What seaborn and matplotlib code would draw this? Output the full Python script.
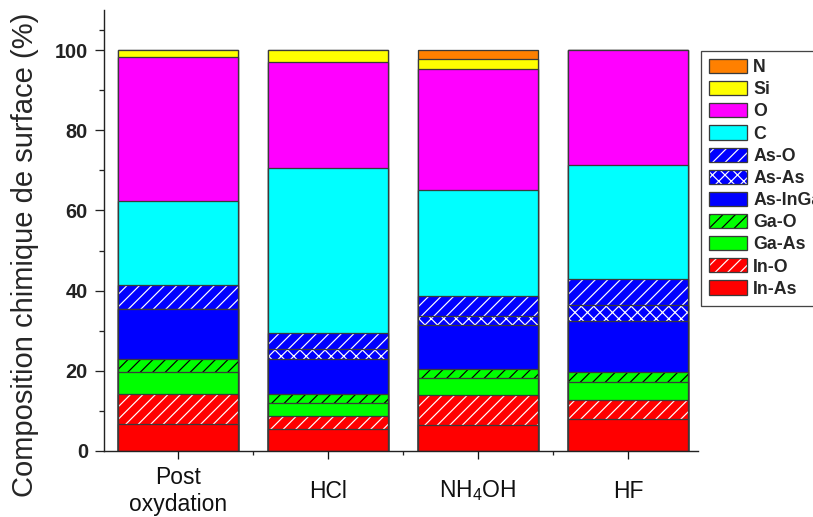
import numpy as np
import matplotlib
matplotlib.use("Agg")
import matplotlib.pyplot as plt
from matplotlib.patches import Patch
from matplotlib.legend_handler import HandlerTuple
from matplotlib.ticker import FixedLocator
import seaborn as sns

# --- données ---
categories = ["Post\noxydation", "HCl", "NH4OH", "HF"]
tick_labels = ["Post\noxydation", "HCl", r"NH$_\mathregular{4}$OH", "HF"]
components = ["In-As", "In-O", "Ga-As", "Ga-O", "As-InGa", "As-As", "As-O",
              "C", "O", "Si", "N"]
in_as   = [6.7, 5.4, 6.5, 8.0]
in_o    = [7.4, 3.3, 7.5, 4.7]
ga_as   = [5.7, 3.2, 4.3, 4.6]
ga_o    = [3.1, 2.2, 2.2, 2.5]
as_inga = [12.4, 8.8, 10.9, 12.7]
as_as   = [0.0, 2.5, 2.3, 3.9]
as_o    = [6.1, 4.1, 5.0, 6.4]
c_surf  = [20.9, 41.0, 26.5, 28.5]
o_surf  = [35.9, 26.6, 30.1, 28.7]
si      = [1.8, 2.9, 2.5, 0.0]
n       = [0.0, 0.0, 2.2, 0.0]
y_ticks = [0, 20, 40, 60, 80, 100]

# --- style ---
COLORS  = ["#FF0000", "#FF0000", "#00FF00", "#00FF00", "#0000FF", "#0000FF",
           "#0000FF", "#00FFFF", "#FF00FF", "#FFFF00", "#FF8000"]
HATCHES = [None, "////", None, "////", None, "xxxx", "////", None, None, None, None]
HCOLORS = ["none", "white", "none", "black", "none", "white", "white",
           "none", "none", "none", "none"]
EDGE = "#3a3a3a"
DPI = 150
PX = 72 / DPI  # 1 pixel en points

sns.set_theme(style="ticks")
plt.rcParams["font.family"] = ["Liberation Sans", "DejaVu Sans"]
plt.rcParams["mathtext.fontset"] = "custom"
plt.rcParams["mathtext.rm"] = "Liberation Sans"
plt.rcParams["hatch.linewidth"] = 1.2 * PX

values = np.array([in_as, in_o, ga_as, ga_o, as_inga, as_as, as_o,
                   c_surf, o_surf, si, n])
stack = np.cumsum(values, axis=0)

fig = plt.figure(figsize=(813 / DPI, 517 / DPI), dpi=DPI)
ax = fig.add_axes([104 / 813, 1 - 451 / 517, (698 - 104) / 813, (451 - 10) / 517])

# barres cumulées dessinées du haut vers le bas
for i in reversed(range(len(components))):
    sns.barplot(x=categories, y=stack[i], color=COLORS[i], saturation=1,
                width=0.8, errorbar=None, hatch=HATCHES[i],
                edgecolor=HCOLORS[i] if HATCHES[i] else COLORS[i],
                linewidth=0, ax=ax)
    ax.bar(range(len(categories)), stack[i], width=0.8, facecolor="none",
           edgecolor=EDGE, linewidth=1.3 * PX)

ax.set_xlim(-0.493, 3.467)
ax.set_ylim(0, 110)
sns.despine(ax=ax)
for sp in ("left", "bottom"):
    ax.spines[sp].set_linewidth(1.4 * PX)
    ax.spines[sp].set_color("#222222")

ax.set_yticks(y_ticks)
ax.set_yticklabels([str(t) for t in y_ticks], fontsize=9.6, fontweight="bold")
ax.yaxis.set_minor_locator(FixedLocator([10, 30, 50, 70, 90, 105]))
ax.tick_params(axis="y", which="major", length=9 * PX, width=1.3 * PX,
               pad=7 * PX, colors="#222222")
ax.tick_params(axis="y", which="minor", length=5 * PX, width=1.3 * PX,
               color="#222222")

ax.set_xticks(range(len(categories)))
ax.set_xticklabels(tick_labels, fontsize=11, va="center", linespacing=1.2)
ax.xaxis.set_minor_locator(FixedLocator([-0.5, 0.5, 1.5, 2.5]))
ax.tick_params(axis="x", which="major", length=8 * PX, width=1.3 * PX,
               pad=32 * PX, colors="#111111")
ax.tick_params(axis="x", which="minor", length=4 * PX, width=1.3 * PX,
               color="#222222")

ax.set_xlabel("")
ax.set_ylabel("Composition chimique de surface (%)", fontsize=14)
ax.yaxis.set_label_coords(-0.109, 0.444)

# légende (ordre inverse de l'empilement)
handles = []
for i in reversed(range(len(components))):
    fill = Patch(facecolor=COLORS[i], hatch=HATCHES[i],
                 edgecolor=HCOLORS[i] if HATCHES[i] else COLORS[i], linewidth=0)
    outline = Patch(facecolor="none", edgecolor=EDGE, linewidth=1.3 * PX)
    handles.append((fill, outline))
labels = list(reversed(components))
leg = fig.legend(handles, labels, handler_map={tuple: HandlerTuple(ndivide=1)},
                 loc="upper left", bbox_to_anchor=(701 / 813, 1 - 51 / 517),
                 bbox_transform=fig.transFigure, borderaxespad=0,
                 prop={"size": 8.5, "weight": "bold"}, handlelength=2.15,
                 handleheight=0.85, handletextpad=0.35, labelspacing=0.28,
                 borderpad=0.45, fancybox=False, framealpha=1,
                 edgecolor="#444444")
leg.get_frame().set_linewidth(1.3 * PX)

fig.savefig("out.png", dpi=DPI)
